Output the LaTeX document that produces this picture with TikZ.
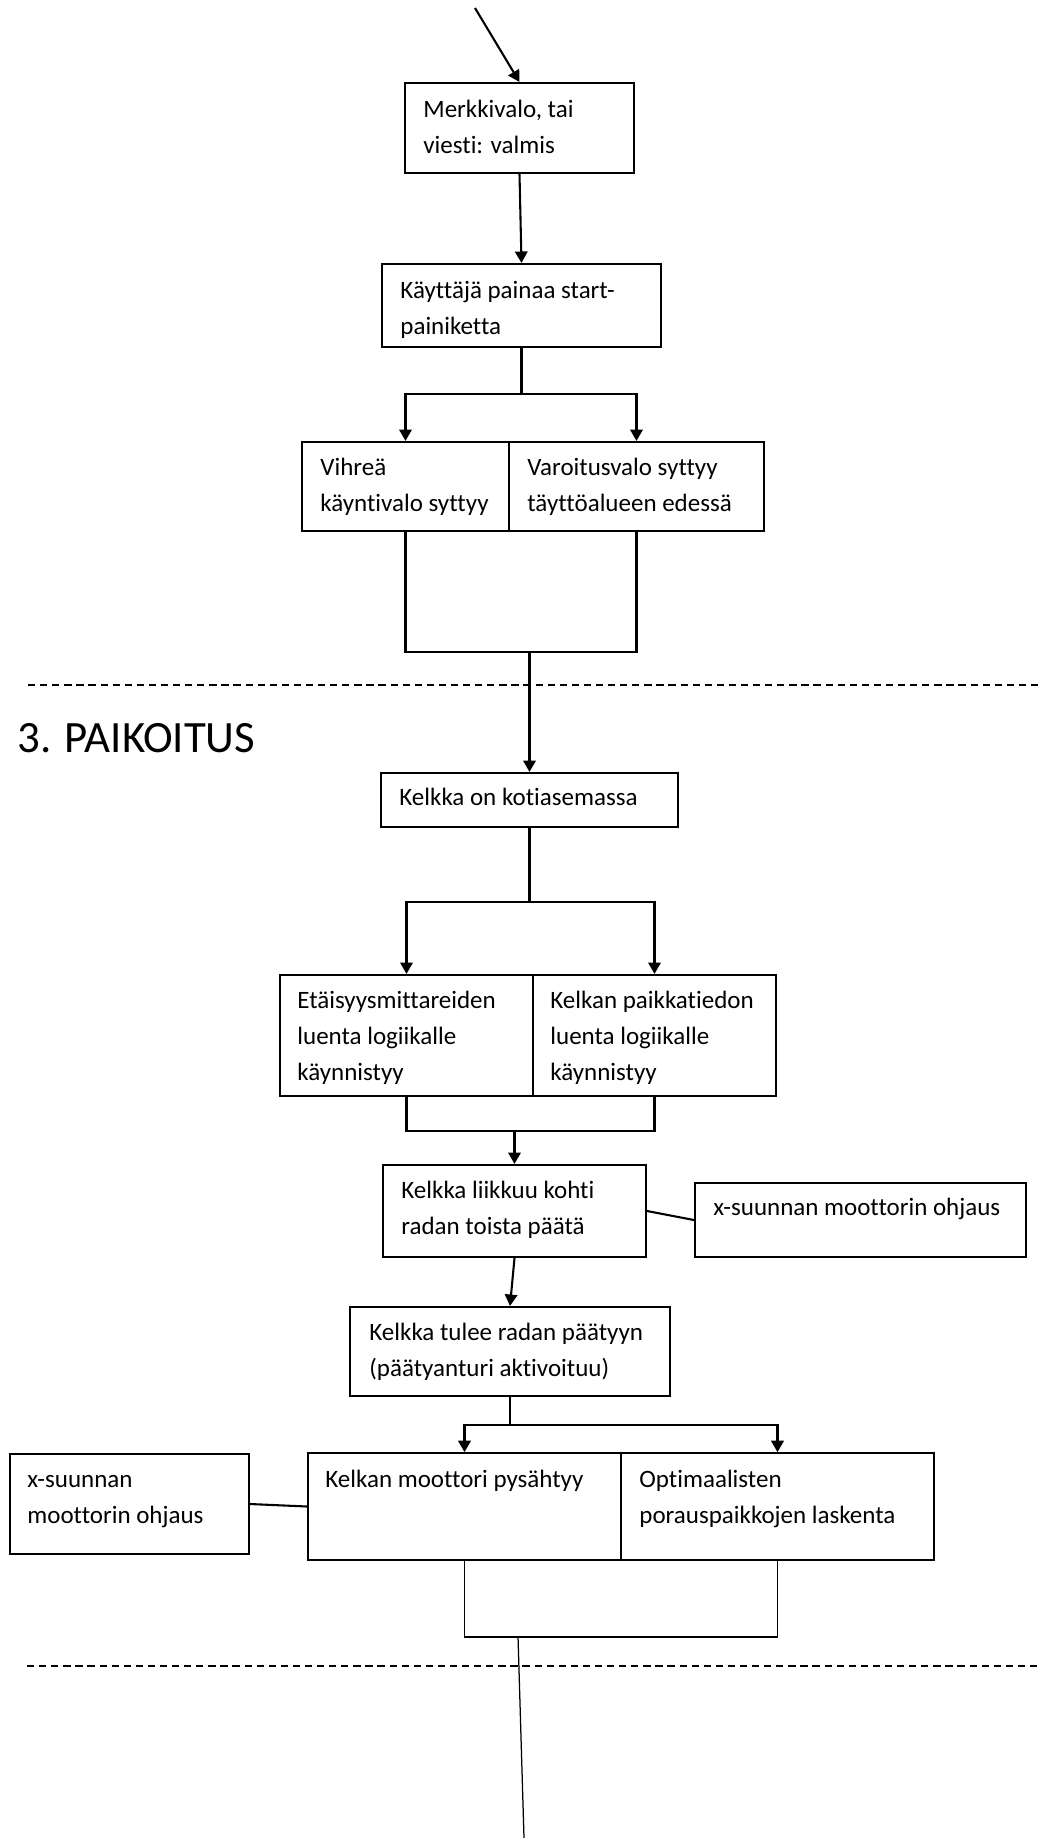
\documentclass[tikz,border=0pt]{standalone}
\usepackage{fontspec}
\setmainfont{Carlito}[Ligatures=NoCommon, RawFeature={-liga;-clig}]
\usetikzlibrary{arrows.meta,fit}

\tikzset{
  box/.style={draw, line width=1pt, inner sep=0pt},
  lowbox/.style={box, line width=0.8pt},
  txt/.style={anchor=north west, inner sep=0pt, align=left,
    font=\fontsize{12}{17.2}\selectfont},
  link/.style={line width=1pt},
  arr/.style={line width=1pt, -{Triangle[length=5.5pt,width=6pt]}},
  sep/.style={line width=0.6pt, dash pattern=on 3.5pt off 2.3pt},
}
% every text line starts with a strut so the top edge is fixed
\newcommand{\ls}{\strut}

\begin{document}
\begin{tikzpicture}[x=0.48pt, y=-0.48pt]
\useasboundingbox (0,0) rectangle (1040,1838);

% ---------- boxes ----------
\node[box, fit={(405,83)(634,173)}]   (b1)  {};
\node[box, fit={(382,264)(661,347)}]  (b2)  {};
\node[box, fit={(302,442)(509,531)}]  (b3a) {};
\node[box, fit={(509,442)(764,531)}]  (b3b) {};
\node[box, fit={(381,773)(678,827)}]  (b4)  {};
\node[box, fit={(280,975)(533,1096)}] (b5a) {};
\node[box, fit={(533,975)(776,1096)}] (b5b) {};
\node[box, fit={(383,1165)(646,1257)}] (b6) {};
\node[box, fit={(695,1183)(1026,1257)}] (r1) {};
\node[box, fit={(350,1307)(670,1396)}] (b7) {};
\node[lowbox, fit={(308,1453)(621,1560)}] (b8a) {};
\node[lowbox, fit={(621,1453)(934,1560)}] (b8b) {};
\node[lowbox, fit={(10,1454)(249,1554)}]  (l1) {};

% ---------- texts ----------
\node[txt] (t1)  at (423,92)   {\ls Merkkivalo, tai\\\ls viesti: valmis};
\node[txt] (t2)  at (400,273)  {\ls Käyttäjä painaa start-\\\ls painiketta};
\node[txt] (t3a) at (320,450)  {\ls Vihreä\\\ls käyntivalo syttyy};
\node[txt] (t3b) at (527,450)  {\ls Varoitusvalo syttyy\\\ls täyttöalueen edessä};
\node[txt] (t4)  at (399,780)  {\ls Kelkka on kotiasemassa};
\node[txt] (t5a) at (297,983)  {\ls Etäisyysmittareiden\\\ls luenta logiikalle\\\ls käynnistyy};
\node[txt] (t5b) at (550,983)  {\ls Kelkan paikkatiedon\\\ls luenta logiikalle\\\ls käynnistyy};
\node[txt] (t6)  at (401,1173) {\ls Kelkka liikkuu kohti\\\ls radan toista päätä};
\node[txt] (tr1) at (713,1190) {\ls x-suunnan moottorin ohjaus};
\node[txt] (t7)  at (369,1315) {\ls Kelkka tulee radan päätyyn\\\ls (päätyanturi aktivoituu)};
\node[txt] (tl1) at (27,1462)  {\ls x-suunnan\\\ls moottorin ohjaus};
\node[txt] (t8a) at (325,1462) {\ls Kelkan moottori pysähtyy};
\node[txt] (t8b) at (639,1462) {\ls Optimaalisten\\\ls porauspaikkojen laskenta};

\node[anchor=base west, inner sep=0pt, font=\fontsize{21.5}{26}\selectfont]
  (head) at (17,752) {3. PAIKOITUS};

% ---------- section separators ----------
\draw[sep] (28,685) -- (1040,685);
\draw[sep] (27,1666) -- (1040,1666);

% ---------- connectors ----------
\coordinate (in) at (475,8);
\draw[arr] (in) -- (b1.north);
\draw[arr] (b1.south) -- (b2.north);

\coordinate (s1) at (521.5,394);
\draw[link] (b2.south) -- (s1);
\draw[arr] (s1) -| (b3a.north);
\draw[arr] (s1) -| (b3b.north);

\draw[link] (b3a.south) -- ++(0,120) -| (b3b.south);
\coordinate (j1) at (529.5,651);
\draw[arr] (j1) -- (b4.north);

\coordinate (s2) at (529.5,902);
\draw[link] (b4.south) -- (s2);
\draw[arr] (s2) -| (b5a.north);
\draw[arr] (s2) -| (b5b.north);

\draw[link] (b5a.south) -- ++(0,34) -| (b5b.south);
\coordinate (j2) at (514.5,1130);
\draw[arr] (j2) -- (b6.north);

\draw[link] (b6.east) -- (r1.west);
\draw[arr] (b6.south) -- (b7.north);

\coordinate (s3) at (510,1425);
\draw[link] (b7.south) -- (s3);
\draw[arr] (s3) -| (b8a.north);
\draw[arr] (s3) -| (b8b.north);

\draw[link] (l1.east) -- (b8a.west);

\draw[link, line width=0.7pt] (b8a.south) -- ++(0,76) -| (b8b.south);
\coordinate (j3) at (518,1636);
\coordinate (out) at (524,1838);
\draw[line width=0.6pt] (j3) -- (out);
\end{tikzpicture}
\end{document}
